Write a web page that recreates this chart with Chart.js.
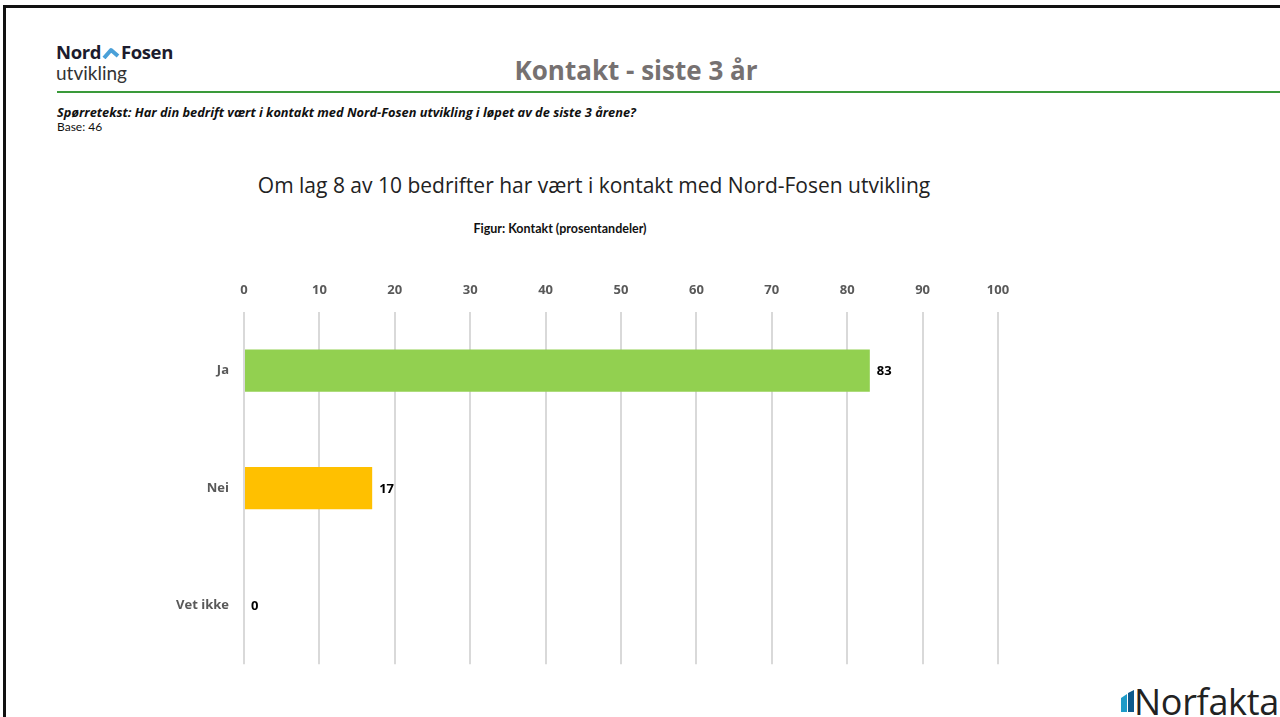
<!DOCTYPE html>
<html>
<head>
<meta charset="utf-8">
<script src="https://cdn.jsdelivr.net/npm/chart.js@4/dist/chart.umd.min.js"></script>
<style>
  body { margin: 0; width: 1280px; height: 717px; background: #fff; position: relative; overflow: hidden; font-family: Lato, "Open Sans", sans-serif; }
  .abs { position: absolute; white-space: nowrap; }
  #frameTop { left: 3px; top: 5px; width: 1277px; height: 3px; background: #111; }
  #frameLeft { left: 3px; top: 5px; width: 3px; height: 712px; background: #111; }
  #rule { left: 57px; top: 91px; width: 1223px; height: 2px; background: #3a9a3a; }
  #logo1 { left: 56px; top: 39px; font-size: 18.5px; font-weight: bold; color: #1c1c2e; font-family: "Open Sans", sans-serif; letter-spacing: -0.4px; }
  #logo2 { left: 56px; top: 61px; font-size: 19px; color: #333; }
  #mainTitle { left: 0; width: 1272px; top: 52px; text-align: center; font-size: 26px; font-weight: bold; color: #767171; font-family: "Open Sans", sans-serif; }
  #question { left: 57px; top: 103px; font-size: 12.8px; font-weight: bold; font-style: italic; color: #111; font-family: "Open Sans", sans-serif; }
  #base { left: 57px; top: 119px; font-size: 12px; color: #111; }
  #headline { left: 0; width: 1188px; top: 171px; text-align: center; font-size: 21px; color: #222; font-family: "Open Sans", sans-serif; }
  #figTitle { left: 0; width: 1120px; top: 221px; text-align: center; font-size: 12.5px; font-weight: bold; color: #111; }
  #norfakta { left: 1134px; top: 677px; font-size: 36px; color: #222; font-family: "Open Sans", sans-serif; letter-spacing: -0.3px; }
  #nfIcon { left: 1121px; top: 690px; }
  #chartBox { position: absolute; left: 150px; top: 270px; width: 900px; height: 417px; }
</style>
</head>
<body>
<div class="abs" id="frameTop"></div>
<div class="abs" id="frameLeft"></div>
<div class="abs" id="logo1">Nord<svg width="18" height="12" viewBox="0 0 18 12" style="margin:0 1px;"><path d="M2 11 L9 3 L16 9" fill="none" stroke="#4aa0d8" stroke-width="4" stroke-linejoin="round"/></svg>Fosen</div>
<div class="abs" id="logo2">utvikling</div>
<div class="abs" id="mainTitle">Kontakt - siste 3 år</div>
<div class="abs" id="rule"></div>
<div class="abs" id="question">Spørretekst: Har din bedrift vært i kontakt med Nord-Fosen utvikling i løpet av de siste 3 årene?</div>
<div class="abs" id="base">Base: 46</div>
<div class="abs" id="headline">Om lag 8 av 10 bedrifter har vært i kontakt med Nord-Fosen utvikling</div>
<div class="abs" id="figTitle">Figur: Kontakt (prosentandeler)</div>
<svg class="abs" id="nfIcon" width="14" height="22" viewBox="0 0 14 22"><path d="M0 8 L6 4 L6 22 L0 22 Z" fill="#1e9bc8"/><path d="M7 3 L13 0 L13 22 L7 22 Z" fill="#0f5a8c"/></svg>
<div class="abs" id="norfakta">Norfakta</div>
<div id="chartBox"><canvas id="chart" width="900" height="417"></canvas></div>
<script>
const categories = ['Ja', 'Nei', 'Vet ikke'];
const values = [83, 17, 0];
const barColors = ['#92d050', '#ffc000', '#a6a6a6'];
const tickValues = [0, 10, 20, 30, 40, 50, 60, 70, 80, 90, 100];

const labelFont = { family: '"Open Sans", sans-serif', size: 13, weight: 'bold' };

const valueLabels = {
  id: 'valueLabels',
  afterDatasetsDraw(chart) {
    const ctx = chart.ctx;
    const meta = chart.getDatasetMeta(0);
    ctx.save();
    ctx.font = 'bold 13px "Open Sans", sans-serif';
    ctx.fillStyle = '#000';
    ctx.textBaseline = 'middle';
    meta.data.forEach((bar, i) => {
      ctx.fillText(String(values[i]), bar.x + 7, bar.y + 1);
    });
    ctx.restore();
  }
};

function drawChart() {
  new Chart(document.getElementById('chart'), {
    type: 'bar',
    data: {
      labels: categories,
      datasets: [{
        data: values,
        backgroundColor: barColors,
        barPercentage: 0.36,
        categoryPercentage: 1
      }]
    },
    options: {
      indexAxis: 'y',
      responsive: false,
      animation: false,
      layout: { padding: { top: 0, right: 52, bottom: 5, left: 0 } },
      plugins: { legend: { display: false }, tooltip: { enabled: false } },
      scales: {
        x: {
          position: 'top',
          min: 0,
          max: 100,
          afterBuildTicks(axis) { axis.ticks = tickValues.map(v => ({ value: v })); },
          afterFit(axis) { axis.height = 42; },
          grid: { color: '#d9d9d9', lineWidth: 2, drawTicks: false },
          border: { display: false },
          ticks: { padding: 14, color: '#595959', font: labelFont }
        },
        y: {
          afterFit(axis) { axis.width = 94; },
          grid: { display: false, drawTicks: false },
          border: { display: false },
          ticks: { padding: 15, color: '#595959', font: labelFont }
        }
      }
    },
    plugins: [valueLabels]
  });
}

Promise.all([
  document.fonts.load('bold 13px "Open Sans"'),
  document.fonts.load('13px "Open Sans"')
]).then(drawChart, drawChart);
</script>
</body>
</html>
